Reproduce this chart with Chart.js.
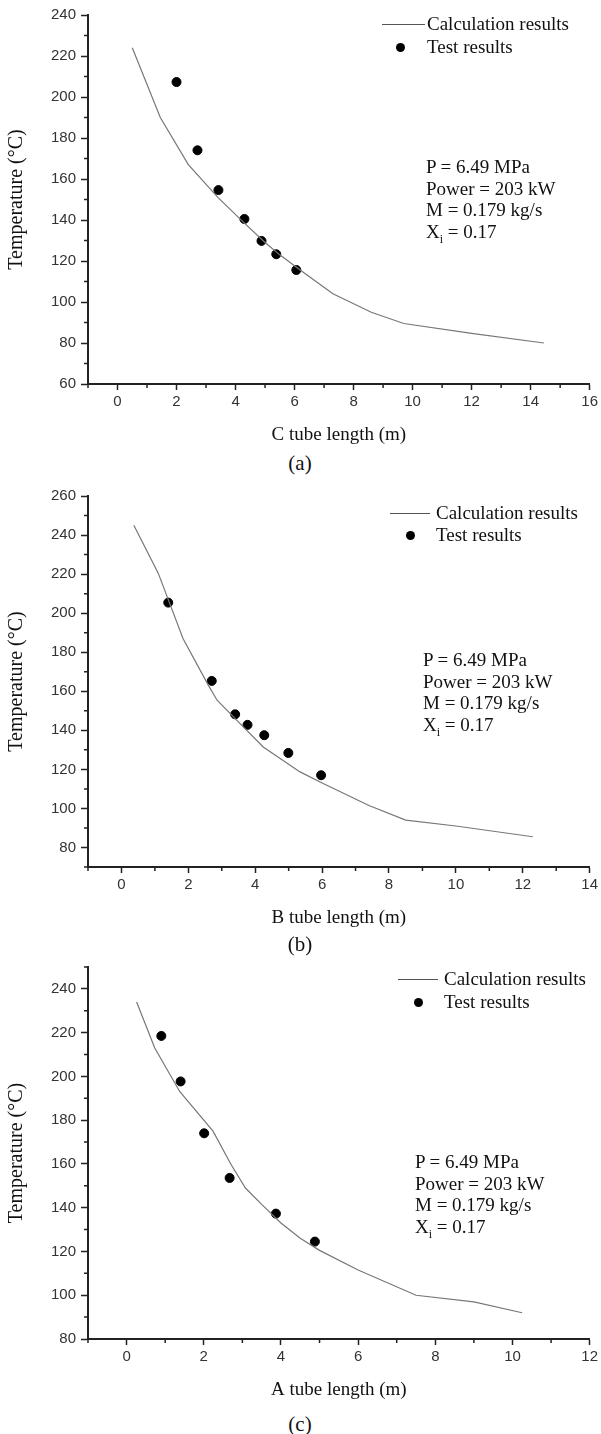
<!DOCTYPE html>
<html>
<head>
<meta charset="utf-8">
<script src="https://cdn.jsdelivr.net/npm/chart.js@4.4.1/dist/chart.umd.min.js"></script>
<style>
body{margin:0;background:#fff;width:601px;height:1434px;position:relative;overflow:hidden;font-family:"Liberation Serif","Times New Roman",serif;color:#111}
canvas{position:absolute;left:0}
.txt{position:absolute;font-size:19px;line-height:21.7px;white-space:nowrap}
.key-line{position:absolute;height:0;border-top:1px solid #555}
.key-dot{position:absolute;width:9px;height:9px;border-radius:50%;background:#000}
.cap{position:absolute;font-size:21px;line-height:24px;transform:translateX(-50%)}
</style>
</head>
<body>
<canvas id="chartC" width="601" height="446" style="top:0"></canvas>
<canvas id="chartB" width="601" height="449" style="top:480px"></canvas>
<canvas id="chartA" width="601" height="451" style="top:950px"></canvas>
<div id="overlay"></div>
<script>
// C tube (a)
const cCalcLen  = [0.5, 1.45, 2.4, 3.4, 4.3, 5.0, 5.5, 6.2, 7.3, 8.6, 9.7, 12.0, 14.45];
const cCalcTemp = [224, 190, 167, 151, 138.5, 129, 123, 115.5, 104, 95, 89.5, 84.7, 80];
const cTestLen  = [2.0, 2.71, 3.42, 4.3, 4.88, 5.38, 6.06];
const cTestTemp = [207.3, 174, 154.6, 140.5, 129.8, 123.3, 115.6];

// B tube (b)
const bCalcLen  = [0.37, 1.1, 1.84, 2.6, 2.86, 3.4, 4.24, 5.34, 6.0, 7.4, 8.5, 10.0, 12.3];
const bCalcTemp = [245, 220.5, 187, 163, 155.4, 146, 131.5, 118.7, 113, 101.5, 94, 91, 85.5];
const bTestLen  = [1.4, 2.7, 3.4, 3.77, 4.27, 4.99, 5.97];
const bTestTemp = [205.4, 165.3, 148.2, 142.8, 137.5, 128.4, 117];

// A tube (c)
const aCalcLen  = [0.26, 0.73, 1.38, 2.24, 2.7, 3.08, 3.5, 4.0, 4.5, 5.0, 6.0, 7.5, 9.0, 10.25];
const aCalcTemp = [234, 213, 193, 175, 160, 149, 141.5, 133, 126, 120.5, 111.5, 100, 97, 92];
const aTestLen  = [0.9, 1.4, 2.01, 2.67, 3.87, 4.88];
const aTestTemp = [218.5, 197.7, 174, 153.6, 137.3, 124.5];

const seriesNames = ['Calculation results', 'Test results'];
const noteLines = ['P = 6.49 MPa', 'Power = 203 kW', 'M = 0.179 kg/s', 'X<sub style="font-size:12px">i</sub> = 0.17'];

const panels = [
  {id:'chartC', top:0,   padTop:15, xTitle:'C tube length (m)', xMax:16, yMin:60, yMax:240,
   calc:[cCalcLen,cCalcTemp], test:[cTestLen,cTestTemp],
   key:{lineX:382, lineW:43, y:24, textX:427, dotX:400, dotY:47}, note:{x:426, y:156}, cap:{text:'(a)', y:451}},
  {id:'chartB', top:480, padTop:16, xTitle:'B tube length (m)', xMax:14, yMin:70, yMax:260,
   calc:[bCalcLen,bCalcTemp], test:[bTestLen,bTestTemp],
   key:{lineX:390, lineW:40, y:513, textX:436, dotX:410, dotY:535}, note:{x:423, y:649}, cap:{text:'(b)', y:932}},
  {id:'chartA', top:950, padTop:17, xTitle:'A tube length (m)', xMax:12, yMin:80, yMax:250,
   calc:[aCalcLen,aCalcTemp], test:[aTestLen,aTestTemp],
   key:{lineX:398, lineW:40, y:979, textX:444, dotX:418, dotY:1002}, note:{x:415, y:1151}, cap:{text:'(c)', y:1412}}
];

const axisColor = '#222';
const tickFont = {family:'"Liberation Sans", Arial, sans-serif', size:15};
const xTitleFont = {family:'"Liberation Serif", "Times New Roman", serif', size:19};
const yTitleFont = {family:'"Liberation Serif", "Times New Roman", serif', size:20};

// short unlabelled ticks between the labelled ones
const minorTicks = {
  id:'minorTicks',
  afterDraw(chart){
    const {ctx, scales:{x, y}} = chart;
    ctx.save();
    ctx.strokeStyle = axisColor;
    ctx.lineWidth = 1.5;
    ctx.beginPath();
    for (let v = Math.ceil(x.min); v <= x.max; v++) {
      if (v % 2 === 0) continue;
      const px = x.getPixelForValue(v);
      ctx.moveTo(px, x.top); ctx.lineTo(px, x.top + 4);
    }
    for (let v = Math.ceil(y.min / 10) * 10; v <= y.max; v += 10) {
      if (v % 20 === 0) continue;
      const py = y.getPixelForValue(v);
      ctx.moveTo(y.right, py); ctx.lineTo(y.right - 4, py);
    }
    ctx.stroke();
    ctx.restore();
  }
};

const pairs = (xs, ys) => xs.map((x, i) => ({x, y: ys[i]}));

panels.forEach(p => {
  new Chart(document.getElementById(p.id), {
    type:'scatter',
    data:{
      datasets:[
        {label:seriesNames[0], data:pairs(p.calc[0], p.calc[1]), showLine:true, tension:0,
         borderColor:'#777', borderWidth:1.2, pointRadius:0},
        {label:seriesNames[1], data:pairs(p.test[0], p.test[1]), showLine:false,
         backgroundColor:'#000', borderColor:'#000', pointRadius:4.5, pointHoverRadius:4.5}
      ]
    },
    options:{
      responsive:false,
      animation:false,
      layout:{padding:{top:p.padTop, right:9, left:0, bottom:0}},
      plugins:{legend:{display:false}, tooltip:{enabled:false}},
      scales:{
        x:{
          type:'linear', min:-1, max:p.xMax,
          ticks:{stepSize:2, color:'#333', font:tickFont, padding:3, maxRotation:0},
          afterBuildTicks:s => { s.ticks = s.ticks.filter(t => t.value % 2 === 0); },
          afterFit:s => { s.height = 62; },
          grid:{drawOnChartArea:false, tickLength:6, tickColor:axisColor, tickWidth:1.5},
          border:{display:true, color:axisColor, width:2},
          title:{display:true, text:p.xTitle, color:'#111', font:xTitleFont, padding:{top:0, bottom:0}}
        },
        y:{
          type:'linear', min:p.yMin, max:p.yMax,
          ticks:{stepSize:20, color:'#333', font:tickFont, padding:5},
          afterBuildTicks:s => { s.ticks = s.ticks.filter(t => t.value % 20 === 0); },
          afterFit:s => { s.width = 88; },
          grid:{drawOnChartArea:false, tickLength:7, tickColor:axisColor, tickWidth:1.5},
          border:{display:true, color:axisColor, width:2},
          title:{display:true, text:'Temperature (°C)', color:'#111', font:yTitleFont, padding:{top:5, bottom:0}}
        }
      }
    },
    plugins:[minorTicks]
  });

  // key, operating conditions and panel caption
  const ov = document.getElementById('overlay');
  const k = p.key;
  ov.insertAdjacentHTML('beforeend',
    `<div class="key-line" style="left:${k.lineX}px;top:${k.y}px;width:${k.lineW}px"></div>` +
    `<div class="txt" style="left:${k.textX}px;top:${k.y - 11}px">${seriesNames[0]}</div>` +
    `<div class="key-dot" style="left:${k.dotX - 4.5}px;top:${k.dotY - 4.5}px"></div>` +
    `<div class="txt" style="left:${k.textX}px;top:${k.dotY - 11}px">${seriesNames[1]}</div>` +
    `<div class="txt" style="left:${p.note.x}px;top:${p.note.y}px">${noteLines.join('<br>')}</div>` +
    `<div class="cap" style="left:300px;top:${p.cap.y}px">${p.cap.text}</div>`);
});
</script>
</body>
</html>
